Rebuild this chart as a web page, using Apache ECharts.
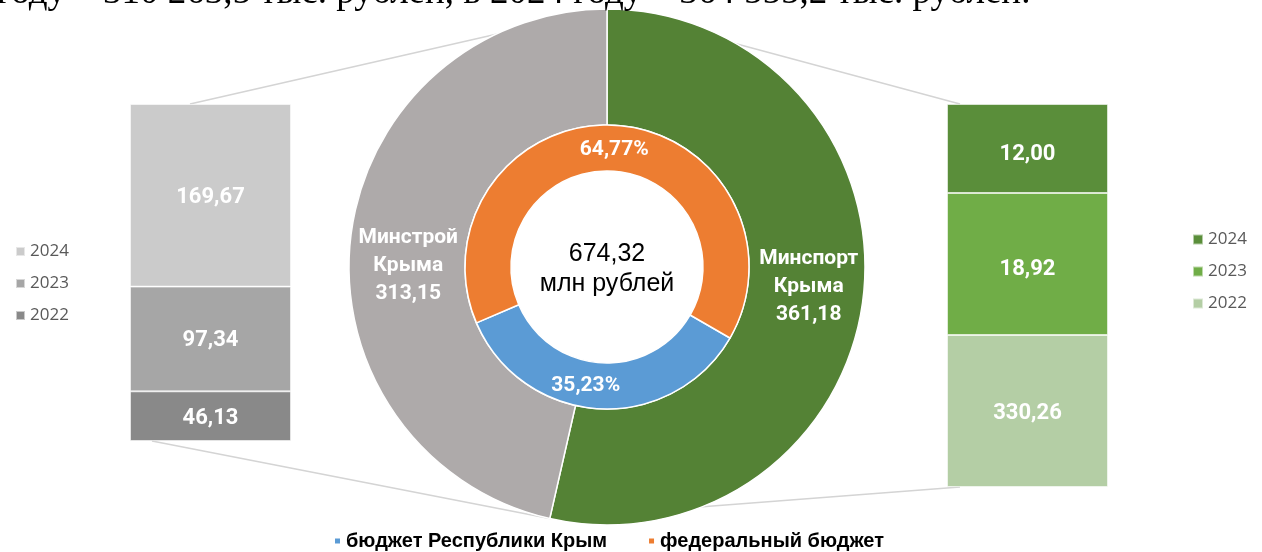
<!DOCTYPE html>
<html>
<head>
<meta charset="utf-8">
<script src="https://cdn.jsdelivr.net/npm/echarts@6/dist/echarts.min.js"></script>
<style>
  html, body { margin: 0; padding: 0; background: #fff; }
  #chart { width: 1262px; height: 552px; }
</style>
</head>
<body>
<div id="chart"></div>
<script>
var years = ['2024', '2023', '2022'];
var stroyByYear = [169.67, 97.34, 46.13];
var sportByYear = [12.00, 18.92, 330.26];
// lengths the right bar segments have in the picture (not to scale with their labels)
var sportDrawn = [82.6, 131.8, 141.1];
var ministries = ['Минспорт Крыма', 'Минстрой Крыма'];
var ministryTotals = [361.18, 313.15];
var sources = ['бюджет Республики Крым', 'федеральный бюджет'];
var sourceShares = [35.23, 64.77];
var totalText = '674,32';
var unitText = 'млн рублей';
var headText = 'году – 310 263,5 тыс. рублей, в 2024 году – 364 555,2 тыс. рублей.';

var grayColors = ['#cbcbcb', '#a6a6a6', '#898989'];
var greenColors = ['#5a8e3a', '#70ad47', '#b4cea5'];
var pieColors = { 'Минспорт Крыма': '#548235', 'Минстрой Крыма': '#aeaaaa' };
var sourceColors = ['#5b9bd5', '#ed7d31'];

var CX = 607, CY = 267, R = 258;
var labelFont = 'Roboto';

function fmt(v) {
    return v.toFixed(2).replace('.', ',');
}
function sum(arr) {
    return arr.reduce(function(a, b) { return a + b; }, 0);
}

var myChart = echarts.init(document.getElementById('chart'));

var barSeries = [];
// stacks start at the bottom, so 2022 goes first
for (var i = years.length - 1; i >= 0; i--) {
    barSeries.push({
        name: 'Минстрой ' + years[i],
        type: 'bar',
        stack: 'stroy',
        xAxisIndex: 0,
        yAxisIndex: 0,
        barWidth: '100%',
        data: [stroyByYear[i]],
        itemStyle: { color: grayColors[i], borderColor: 'rgba(255,255,255,0.55)', borderWidth: 1 },
        label: {
            show: true, position: 'inside', color: '#fff', offset: [0, 2],
            fontFamily: labelFont, fontWeight: 'bold', fontSize: 22,
            formatter: function(p) { return fmt(p.value); }
        }
    });
}
for (var j = years.length - 1; j >= 0; j--) {
    (function(k) {
        barSeries.push({
            name: 'Минспорт ' + years[k],
            type: 'bar',
            stack: 'sport',
            xAxisIndex: 1,
            yAxisIndex: 1,
            barWidth: '100%',
            data: [sportDrawn[k]],
            itemStyle: { color: greenColors[k], borderColor: 'rgba(255,255,255,0.55)', borderWidth: 1 },
            label: {
                show: true, position: 'inside', color: '#fff', offset: [0, k === 2 ? 3 : 6],
                fontFamily: labelFont, fontWeight: 'bold', fontSize: 22,
                formatter: function() { return fmt(sportByYear[k]); }
            }
        });
    })(j);
}

// split point of the outer pie at the bottom (end of the green sector)
var splitDeg = 360 * ministryTotals[0] / sum(ministryTotals);
var splitRad = (90 - splitDeg) * Math.PI / 180;
var topPt = [CX, CY - R];
var botPt = [CX + R * Math.cos(splitRad), CY - R * Math.sin(splitRad)];

var leftBar = { left: 130, top: 104, width: 161, height: 337 };
var rightBar = { left: 947, top: 104, width: 161, height: 383 };

var connectors = [
    [[leftBar.left + 60, leftBar.top], topPt],
    [[leftBar.left + 22, leftBar.top + leftBar.height], botPt],
    [[rightBar.left + 13, rightBar.top], topPt],
    [[rightBar.left + 13, rightBar.top + rightBar.height], botPt]
];

var graphics = connectors.map(function(c) {
    return {
        type: 'line', z: 0,
        shape: { x1: c[0][0], y1: c[0][1], x2: c[1][0], y2: c[1][1] },
        style: { stroke: '#d4d4d4', lineWidth: 1.5 }
    };
});
graphics.push({
    type: 'text', z: 10, x: -3, y: -7,
    style: { text: headText, font: '37px "Liberation Serif"', fill: '#000', verticalAlign: 'middle' }
});
graphics.push({
    type: 'text', z: 10, x: CX, y: CY + 2,
    style: {
        text: totalText + '\n' + unitText, font: '25px "Liberation Sans"', fill: '#000',
        align: 'center', verticalAlign: 'middle', lineHeight: 30
    }
});

var yearLegend = {
    orient: 'vertical', padding: 0,
    icon: 'rect', itemWidth: 9, itemHeight: 9, itemGap: 13,
    selectedMode: false,
    formatter: function(name) { return name.slice(-4); },
    textStyle: { fontFamily: 'Open Sans', fontSize: 17, color: '#595959', lineHeight: 19 }
};

var option = {
    animation: false,
    backgroundColor: '#fff',
    legend: [
        Object.assign({}, yearLegend, {
            left: 15, top: 242,
            data: years.map(function(y) { return 'Минстрой ' + y; })
        }),
        Object.assign({}, yearLegend, {
            left: 1192, top: 230, itemWidth: 10, itemHeight: 10,
            data: years.map(function(y) { return 'Минспорт ' + y; })
        }),
        {
            orient: 'horizontal', left: 333, top: 531, padding: 0,
            icon: 'rect', itemWidth: 7, itemHeight: 7, itemGap: 40,
            selectedMode: false,
            data: sources,
            textStyle: { fontFamily: 'Liberation Sans', fontWeight: 'bold', fontSize: 20, color: '#000', lineHeight: 20 }
        }
    ],
    grid: [
        { left: leftBar.left, top: leftBar.top, width: leftBar.width, height: leftBar.height },
        { left: rightBar.left, top: rightBar.top, width: rightBar.width, height: rightBar.height }
    ],
    xAxis: [
        { type: 'category', gridIndex: 0, data: ['Минстрой Крыма'], show: false },
        { type: 'category', gridIndex: 1, data: ['Минспорт Крыма'], show: false }
    ],
    yAxis: [
        { type: 'value', gridIndex: 0, min: 0, max: sum(stroyByYear), show: false },
        { type: 'value', gridIndex: 1, min: 0, max: sum(sportDrawn), show: false }
    ],
    graphic: graphics,
    series: barSeries.concat([
        {
            name: 'ministries',
            type: 'pie',
            center: [CX, CY],
            radius: [142, R],
            startAngle: 90,
            clockwise: true,
            z: 3,
            emphasis: { disabled: true },
            data: ministries.map(function(m, i) {
                return { name: m, value: ministryTotals[i], itemStyle: { color: pieColors[m] } };
            }),
            itemStyle: { borderColor: '#fff', borderWidth: 1.5 },
            label: {
                show: true, position: 'inside', color: '#fff',
                fontFamily: labelFont, fontWeight: 'bold', fontSize: 21, lineHeight: 28,
                formatter: function(p) { return p.name.replace(' ', '\n') + '\n' + fmt(p.value); }
            },
            labelLayout: function(p) {
                return p.dataIndex === 1 ? { dx: 3, dy: 21 } : { dy: -3 };
            },
            labelLine: { show: false }
        },
        {
            name: 'sources',
            type: 'pie',
            center: [CX, CY],
            radius: [96, 142],
            startAngle: -30,
            clockwise: true,
            z: 4,
            emphasis: { disabled: true },
            data: sources.map(function(s, i) {
                return { name: s, value: sourceShares[i], itemStyle: { color: sourceColors[i] } };
            }),
            itemStyle: { borderColor: '#fff', borderWidth: 1.5 },
            label: {
                show: true, position: 'inside', color: '#fff',
                fontFamily: labelFont, fontWeight: 'bold', fontSize: 21,
                formatter: function(p) { return fmt(p.value) + '%'; }
            },
            labelLayout: function(p) {
                return p.dataIndex === 1 ? { dy: 5 } : { dx: -14, dy: -3 };
            },
            labelLine: { show: false }
        }
    ])
};

myChart.setOption(option);
</script>
</body>
</html>
